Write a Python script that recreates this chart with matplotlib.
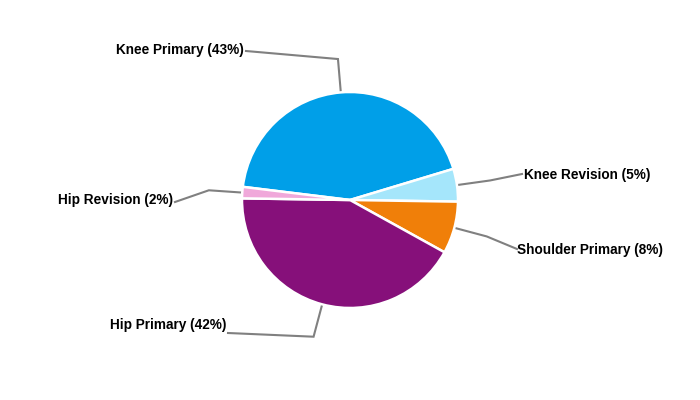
import numpy as np
import matplotlib.pyplot as plt

plt.rcParams['font.family'] = ['Liberation Sans', 'DejaVu Sans']

# data
labels = ['Knee Primary', 'Knee Revision', 'Shoulder Primary', 'Hip Primary', 'Hip Revision']
values = [43.4, 4.9, 7.8, 42.2, 1.7]
colors = ['#009fe8', '#a5e6fb', '#f07f09', '#86107a', '#f0a8da']

# label anchor positions (pixels, top-left origin) and alignment
label_pos = [(244, 50), (524, 175), (517, 250), (226, 325), (173, 200)]
line_end = [(246, 51), (522, 174), (517, 249), (228, 333), (175, 202)]
label_ha = ['right', 'left', 'left', 'right', 'right']

W, H = 700, 400
cx, cy, r = 350, 200, 108

fig = plt.figure(figsize=(7, 4), dpi=100)
ax = fig.add_axes([0, 0, 1, 1])

wedges, _ = ax.pie(values, colors=colors, startangle=173, counterclock=False,
                   center=(cx, H - cy), radius=r,
                   wedgeprops=dict(edgecolor='white', linewidth=1.8))

# pie resets the limits, so set them afterwards
ax.set_xlim(0, W)
ax.set_ylim(0, H)
ax.set_aspect('equal')
ax.axis('off')

total = sum(values)
for w, lab, v, pos, end, ha in zip(wedges, labels, values, label_pos, line_end, label_ha):
    mid = np.deg2rad((w.theta1 + w.theta2) / 2)
    x0 = cx + r * np.cos(mid)
    y0 = (H - cy) + r * np.sin(mid)
    x1 = cx + 1.31 * r * np.cos(mid)
    y1 = (H - cy) + 1.31 * r * np.sin(mid)
    ax.plot([x0, x1, end[0]], [y0, y1, H - end[1]], color='#808080', lw=1.5,
            solid_joinstyle='miter', zorder=0)
    ax.text(pos[0], H - pos[1], '%s (%d%%)' % (lab, round(v / total * 100)),
            ha=ha, va='center', fontsize=9.8, fontweight='bold', color='black')

plt.savefig('out.png', dpi=100)
